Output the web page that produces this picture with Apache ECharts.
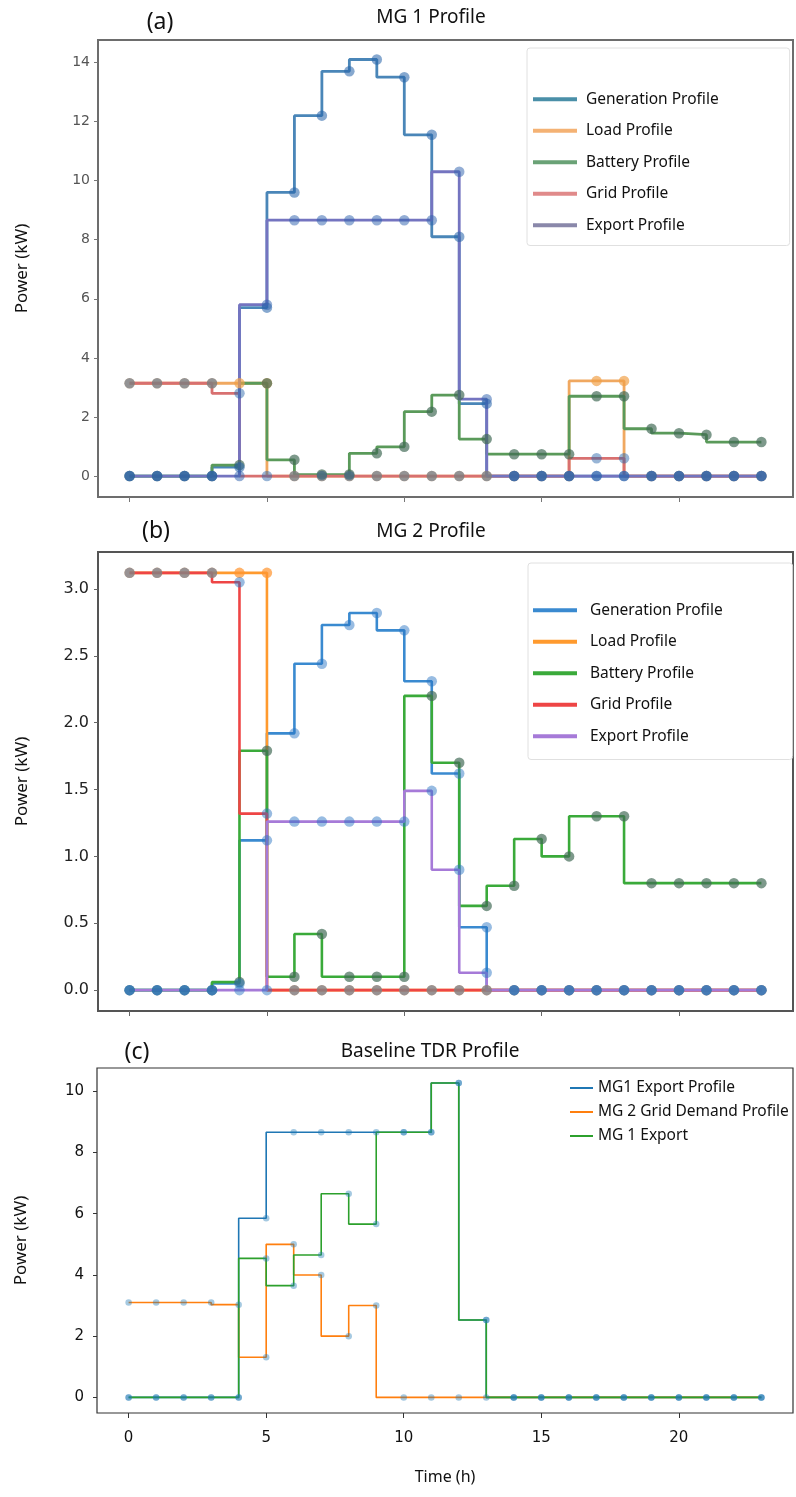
<!DOCTYPE html>
<html>
<head>
<meta charset="utf-8">
<script src="https://cdn.jsdelivr.net/npm/echarts@6/dist/echarts.min.js"></script>
<style>
html,body{margin:0;padding:0;background:#fff;}
#chart{width:796px;height:1497px;}
</style>
</head>
<body>
<div id="chart"></div>
<script>
// ---- data ----
const hours = [0,1,2,3,4,5,6,7,8,9,10,11,12,13,14,15,16,17,18,19,20,21,22,23];
const xTicks = [0,5,10,15,20];

// (a) MG 1 Profile
const genA    = [0,0,0,0,0.3,5.7,9.6,12.2,13.7,14.1,13.5,11.55,8.1,2.45,0,0,0,0,0,0,0,0,0,0];
const loadA   = [3.14,3.14,3.14,3.14,3.14,3.14,0,0,0,0,0,0,0,0,0,0,0,3.22,3.22,0,0,0,0,0];
const batA    = [0,0,0,0,0.37,3.14,0.55,0.05,0.05,0.77,0.99,2.18,2.74,1.25,0.74,0.74,0.74,2.7,2.7,1.6,1.45,1.4,1.15,1.15];
const gridA   = [3.14,3.14,3.14,3.14,2.8,0,0,0,0,0,0,0,0,0,0,0,0,0.6,0.6,0,0,0,0,0];
const exportA = [0,0,0,0,0,5.8,8.66,8.66,8.66,8.66,8.66,8.66,10.3,2.6,0,0,0,0,0,0,0,0,0,0];
const yTicksA = [0,2,4,6,8,10,12,14];

// (b) MG 2 Profile
const genB    = [0,0,0,0,0.05,1.12,1.92,2.44,2.73,2.82,2.69,2.31,1.62,0.47,0,0,0,0,0,0,0,0,0,0];
const loadB   = [3.12,3.12,3.12,3.12,3.12,3.12,0,0,0,0,0,0,0,0,0,0,0,0,0,0,0,0,0,0];
const batB    = [0,0,0,0,0.06,1.79,0.1,0.42,0.1,0.1,0.1,2.2,1.7,0.63,0.78,1.13,1.0,1.3,1.3,0.8,0.8,0.8,0.8,0.8];
const gridB   = [3.12,3.12,3.12,3.12,3.05,1.32,0,0,0,0,0,0,0,0,0,0,0,0,0,0,0,0,0,0];
const exportB = [0,0,0,0,0,0,1.26,1.26,1.26,1.26,1.26,1.49,0.9,0.13,0,0,0,0,0,0,0,0,0,0];
const yTicksB = [0,0.5,1.0,1.5,2.0,2.5,3.0];

// (c) Baseline TDR Profile
const mg1ExpProfC = [0,0,0,0,0,5.85,8.66,8.66,8.66,8.66,8.66,8.66,10.27,2.53,0,0,0,0,0,0,0,0,0,0];
const mg2GridC    = [3.1,3.1,3.1,3.1,3.03,1.31,5.0,4.0,2.0,3.0,0,0,0,0,0,0,0,0,0,0,0,0,0,0];
const mg1ExportC  = [0,0,0,0,0,4.54,3.65,4.65,6.65,5.66,8.66,8.66,10.27,2.53,0,0,0,0,0,0,0,0,0,0];
const yTicksC = [0,2,4,6,8,10];

const namesAB = ['Generation Profile','Load Profile','Battery Profile','Grid Profile','Export Profile'];
const namesC  = ['MG1 Export Profile','MG 2 Grid Demand Profile','MG 1 Export'];

// ---- styling ----
const FONT = "'Noto Sans', 'Open Sans', sans-serif";
const TICKFONT = "'DejaVu Sans', sans-serif";
const colA = ['#4a86b8','#f0a860','#5a9a5a','#d87070','#7474c0'];
const legColA = ['#4a8fa8','#f4b274','#6aa276','#e08a8a','#8a88aa'];
const mkA  = ['rgba(40,100,170,0.7)','rgba(240,160,70,0.85)','rgba(65,105,85,0.85)','rgba(40,100,170,0.6)','rgba(50,100,175,0.65)'];
const colB = ['#3a8ad0','#ff9a2e','#3aaa3a','#ee4545','#a67ad8'];
const mkB  = ['rgba(40,115,195,0.6)','rgba(255,150,50,0.9)','rgba(65,105,85,0.85)','rgba(40,110,190,0.6)','rgba(40,115,195,0.6)'];
const colC = ['#1f77b4','#ff7f0e','#2ca02c'];
const mkC  = 'rgba(31,119,180,0.5)';

const pairs = arr => hours.map((h,i)=>[h, arr[i]]);

function lineSeries(name, arr, gi, color, width){
  return {type:'line', name, xAxisIndex:gi, yAxisIndex:gi, data:pairs(arr), step:'start',
    showSymbol:false, symbol:'none', animation:false,
    lineStyle:{color, width}, itemStyle:{color}, z:2};
}
function dotSeries(arr, gi, color, size){
  return {type:'scatter', name:'pts', xAxisIndex:gi, yAxisIndex:gi, data:pairs(arr),
    symbol:'circle', symbolSize:size, animation:false, silent:true,
    itemStyle:{color}, z:3};
}

const dataA = [genA, loadA, batA, gridA, exportA];
const dataB = [genB, loadB, batB, gridB, exportB];
const dataC = [mg1ExpProfC, mg2GridC, mg1ExportC];

const series = [];
dataA.forEach((d,i)=>series.push(lineSeries(namesAB[i], d, 0, colA[i], 2.8)));
// marker draw order: load, battery, grid, generation, export
[1,2,3,0,4].forEach(i=>series.push(dotSeries(dataA[i], 0, mkA[i], 10.5)));
dataB.forEach((d,i)=>series.push(lineSeries(namesAB[i], d, 1, colB[i], 2.6)));
[1,2,3,0,4].forEach(i=>series.push(dotSeries(dataB[i], 1, mkB[i], 10.5)));
dataC.forEach((d,i)=>series.push(lineSeries(namesC[i], d, 2, colC[i], 1.6)));
dataC.forEach((d,i)=>series.push(dotSeries(d, 2, mkC, 6.5)));

function xAx(gi, showLabels, tickColor){
  const ax = {type:'value', gridIndex:gi, min:-1.15, max:24.15, position:'bottom',
    axisLine:{show:false, onZero:false},
    axisTick:{show:true, customValues:xTicks, length:5, inside:false, lineStyle:{color:tickColor, width:1}},
    axisLabel:{show:showLabels, customValues:xTicks, margin:18, fontSize:15, color:'#111', fontFamily:TICKFONT},
    splitLine:{show:false}};
  if (gi===2){ ax.name='Time (h)'; ax.nameLocation='middle'; ax.nameGap=56;
    ax.nameTextStyle={fontSize:16, color:'#111', fontFamily:FONT}; }
  return ax;
}
function yAx(gi, min, max, ticks, fmt, lblColor, lblSize, margin, tickColor){
  return {type:'value', gridIndex:gi, min, max, position:'left',
    name:'Power (kW)', nameLocation:'middle', nameGap:67, nameRotate:90,
    nameTextStyle:{fontSize:17, color:'#111', fontFamily:FONT},
    axisLine:{show:false, onZero:false},
    axisTick:{show:true, customValues:ticks, length:4, lineStyle:{color:tickColor, width:1}},
    axisLabel:{show:true, customValues:ticks, formatter:fmt, color:lblColor, fontSize:lblSize, margin, fontFamily:TICKFONT},
    splitLine:{show:false}};
}

function legendItems(names, colors){
  return names.map((n,i)=>({name:n, icon:'rect', itemStyle:{color:colors[i], borderWidth:0}}));
}

const option = {
  animation:false,
  backgroundColor:'#fff',
  grid:[
    {left:98, top:40, width:695, height:457, show:true, borderColor:'#6d6d6d', borderWidth:2, backgroundColor:'transparent'},
    {left:98, top:552, width:695, height:459, show:true, borderColor:'#555', borderWidth:2, backgroundColor:'transparent'},
    {left:97, top:1068, width:696, height:345, show:true, borderColor:'#333', borderWidth:1.2, backgroundColor:'transparent'}
  ],
  xAxis:[ xAx(0,false,'#777'), xAx(1,false,'#666'), xAx(2,true,'#333') ],
  yAxis:[
    yAx(0,-0.71,14.76,yTicksA, v=>String(v), '#555', 14, 8, '#777'),
    yAx(1,-0.156,3.276,yTicksB, v=>v.toFixed(1), '#222', 16, 9, '#666'),
    yAx(2,-0.51,10.76,yTicksC, v=>String(v), '#111', 15, 13, '#333')
  ],
  legend:[
    {orient:'vertical', left:527, top:48, padding:[43,71,12,6], itemWidth:44, itemHeight:4, itemGap:15,
     borderColor:'#e0e0e0', borderWidth:1, borderRadius:3, selectedMode:false,
     textStyle:{fontSize:15.5, color:'#111', fontFamily:FONT, lineHeight:16.5, padding:[0,0,0,4]},
     data:legendItems(namesAB, legColA)},
    {orient:'vertical', left:528, top:563, padding:[39,70,15,5], itemWidth:44, itemHeight:4, itemGap:15,
     borderColor:'#e0e0e0', borderWidth:1, borderRadius:3, selectedMode:false,
     textStyle:{fontSize:15.5, color:'#111', fontFamily:FONT, lineHeight:16.5, padding:[0,0,0,8]},
     data:legendItems(namesAB, colB)},
    {orient:'vertical', left:570, top:1079, padding:0, itemWidth:23, itemHeight:2, itemGap:6,
     selectedMode:false,
     textStyle:{fontSize:15.5, color:'#111', fontFamily:FONT, lineHeight:18},
     data:legendItems(namesC, colC)}
  ],
  graphic:[
    {type:'text', x:160, y:22, style:{text:'(a)', font:"23px "+FONT, fill:'#111', textAlign:'center', textVerticalAlign:'middle'}},
    {type:'text', x:431, y:18, style:{text:'MG 1 Profile', font:"19px "+FONT, fill:'#111', textAlign:'center', textVerticalAlign:'middle'}},
    {type:'text', x:156, y:531, style:{text:'(b)', font:"23px "+FONT, fill:'#111', textAlign:'center', textVerticalAlign:'middle'}},
    {type:'text', x:431, y:532, style:{text:'MG 2 Profile', font:"19px "+FONT, fill:'#111', textAlign:'center', textVerticalAlign:'middle'}},
    {type:'text', x:137, y:1052, style:{text:'(c)', font:"23px "+FONT, fill:'#111', textAlign:'center', textVerticalAlign:'middle'}},
    {type:'text', x:430, y:1052, style:{text:'Baseline TDR Profile', font:"19px "+FONT, fill:'#111', textAlign:'center', textVerticalAlign:'middle'}}
  ],
  series
};

const chart = echarts.init(document.getElementById('chart'), null, {renderer:'canvas'});
chart.setOption(option);
</script>
</body>
</html>
